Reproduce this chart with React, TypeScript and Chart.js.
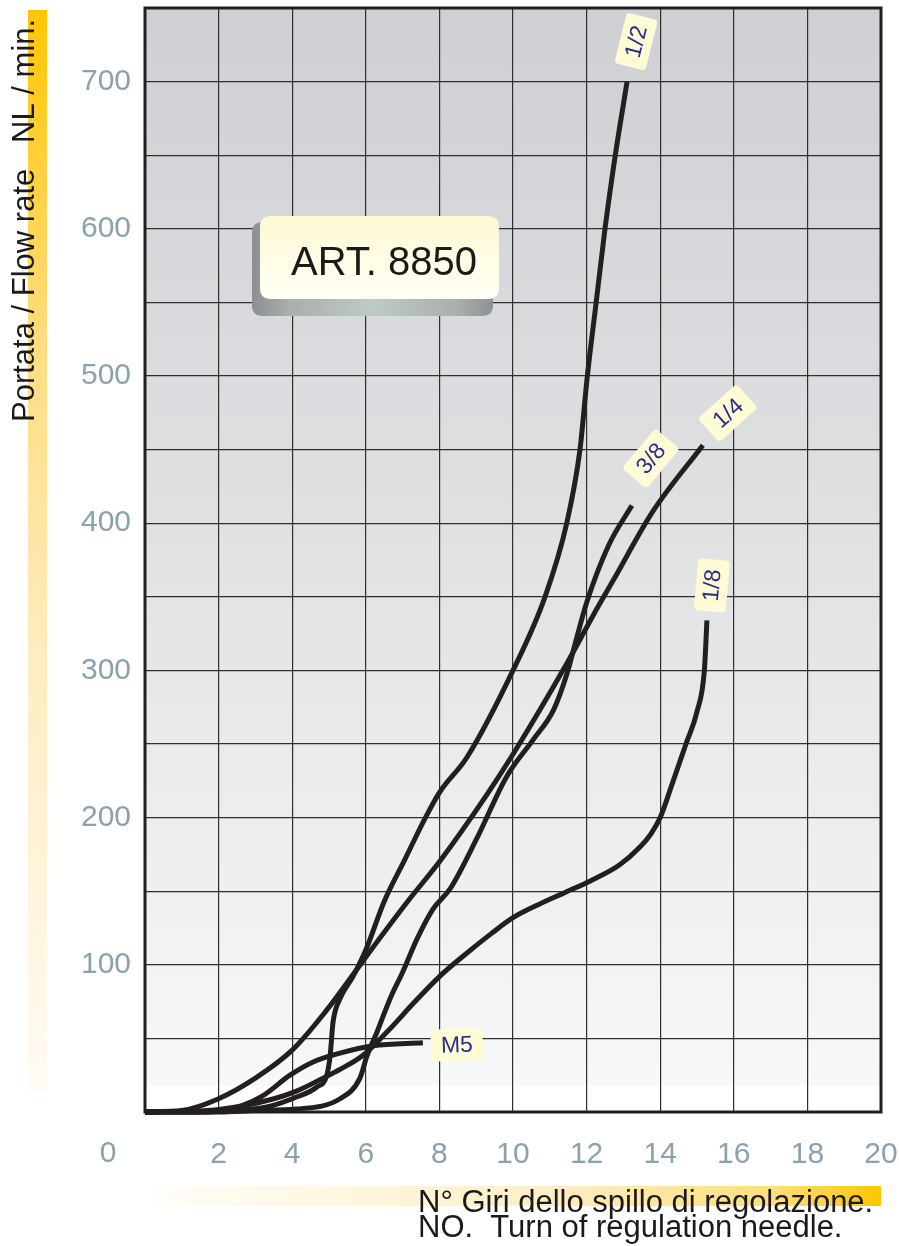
import React, { useEffect, useRef } from 'react';
import { Chart, registerables } from 'chart.js';

Chart.register(...registerables);

// ---- data ----
const xTickValues = [0, 2, 4, 6, 8, 10, 12, 14, 16, 18, 20];
const yTickLabels = [100, 200, 300, 400, 500, 600, 700];
const seriesNames = ['1/2', '3/8', '1/4', '1/8', 'M5'];

const halfX = [0, 1.5, 2.5, 3.4, 4.1, 4.67, 4.94, 5.03, 5.11, 5.3, 5.65, 6.0, 6.5, 7.07, 7.6, 8.0, 8.75, 10.0, 10.87, 11.46, 11.82, 12.02, 12.26, 12.5, 12.78, 13.1];
const halfY = [0, 0, 1, 4, 10, 17, 25, 38, 61, 77, 92, 110, 143, 172, 199, 217, 241, 300, 350, 400, 450, 500, 550, 600, 650, 700];

const threeEighthX = [0, 2, 3, 4.1, 5.3, 5.84, 6.03, 6.3, 6.66, 7.0, 7.4, 7.83, 8.3, 9.0, 9.83, 10.55, 11.1, 11.47, 11.74, 12.0, 12.6, 13.23];
const threeEighthY = [0, 0, 1, 2, 9, 23, 38, 54, 77, 95, 118, 138, 152, 185, 228, 253, 273, 298, 323, 346, 385, 412];

const quarterX = [0, 1, 2, 3, 4, 4.9, 5.76, 6.2, 7.2, 8.0, 9.3, 10.0, 11.47, 12.17, 12.72, 13.8, 15.16];
const quarterY = [0, 1, 9, 23, 42, 68, 97, 112, 145, 170, 216, 243, 305, 337, 361, 408, 453];

const eighthX = [0, 1.7, 2.6, 3.5, 4.1, 4.84, 5.3, 5.9, 6.6, 7.3, 8.0, 8.7, 9.4, 10.0, 10.7, 11.4, 12.1, 12.9, 13.45, 13.75, 14.0, 14.3, 14.7, 15.0, 15.2, 15.27];
const eighthY = [0, 1, 4, 9, 14, 23, 29, 38, 55, 74, 92, 107, 121, 132, 141, 149, 157, 168, 180, 189, 200, 221, 250, 272, 300, 334];

const m5X = [0, 1.5, 2.1, 2.6, 3.2, 3.94, 4.57, 5.3, 6.2, 7.55];
const m5Y = [0, 0, 1, 4, 11, 25, 34, 40, 45, 47];

const seriesX = [halfX, threeEighthX, quarterX, eighthX, m5X];
const seriesY = [halfY, threeEighthY, quarterY, eighthY, m5Y];

// ---- styles ----
const FONT = '"Liberation Sans", Arial, Helvetica, sans-serif';
const TICK_COLOR = '#8aa1ae';
const LINE_COLOR = '#231f20';
const labelStyles = [
  { dx: 9, dy: -40, rot: -76 },
  { dx: 19, dy: -47, rot: -50 },
  { dx: 25, dy: -32, rot: -42 },
  { dx: 5, dy: -35, rot: -85 },
  { dx: 34, dy: 2, rot: -2 },
];

function roundRect(ctx: CanvasRenderingContext2D, x: number, y: number, w: number, h: number, r: number) {
  ctx.beginPath();
  ctx.moveTo(x + r, y);
  ctx.lineTo(x + w - r, y);
  ctx.quadraticCurveTo(x + w, y, x + w, y + r);
  ctx.lineTo(x + w, y + h - r);
  ctx.quadraticCurveTo(x + w, y + h, x + w - r, y + h);
  ctx.lineTo(x + r, y + h);
  ctx.quadraticCurveTo(x, y + h, x, y + h - r);
  ctx.lineTo(x, y + r);
  ctx.quadraticCurveTo(x, y, x + r, y);
  ctx.closePath();
}

const decoPlugin = {
  id: 'deco',
  beforeDraw(chart: any) {
    const { ctx, chartArea: a, width, height } = chart;
    ctx.save();
    ctx.fillStyle = '#ffffff';
    ctx.fillRect(0, 0, width, height);

    // Y title bar
    const gy = ctx.createLinearGradient(0, 10, 0, 1090);
    gy.addColorStop(0, '#ffc600');
    gy.addColorStop(0.3, '#ffdc7c');
    gy.addColorStop(0.6, '#ffecc0');
    gy.addColorStop(1, '#fffbf4');
    ctx.fillStyle = gy;
    ctx.fillRect(28, 10, 19, 1080);

    // X title bar
    const gx = ctx.createLinearGradient(158, 0, a.right, 0);
    gx.addColorStop(0, '#fffdf8');
    gx.addColorStop(0.5, '#fff0c9');
    gx.addColorStop(0.85, '#ffde80');
    gx.addColorStop(1, '#ffc700');
    ctx.fillStyle = gx;
    ctx.fillRect(158, 1186, a.right - 158, 20);

    // plot background
    const gb = ctx.createLinearGradient(0, a.top, 0, a.bottom);
    gb.addColorStop(0, '#cfd0d3');
    gb.addColorStop(0.45, '#dfe0e2');
    gb.addColorStop(0.9, '#f3f5f5');
    gb.addColorStop(0.975, '#f7f9f9');
    gb.addColorStop(0.977, '#ffffff');
    gb.addColorStop(1, '#ffffff');
    ctx.fillStyle = gb;
    ctx.fillRect(a.left, a.top, a.right - a.left, a.bottom - a.top);

    // Y title
    ctx.fillStyle = '#1a1a1a';
    ctx.font = `31px ${FONT}`;
    ctx.textBaseline = 'alphabetic';
    ctx.textAlign = 'left';
    ctx.save();
    ctx.translate(34, 422);
    ctx.rotate(-Math.PI / 2);
    ctx.fillText('Portata / Flow rate   NL / min.', 0, 0);
    ctx.restore();

    // X title
    ctx.font = `31px ${FONT}`;
    ctx.fillText('N° Giri dello spillo di regolazione.', 418, 1212);
    ctx.fillText('NO.  Turn of regulation needle.', 418, 1237);

    // corner 0 label
    const xs = chart.scales.x;
    ctx.fillStyle = TICK_COLOR;
    ctx.font = `30px ${FONT}`;
    ctx.textAlign = 'center';
    ctx.textBaseline = 'middle';
    ctx.fillText(String(xTickValues[0]), xs.getPixelForValue(xTickValues[0]) - 37, 1154);
    ctx.restore();
  },
  beforeDatasetsDraw(chart: any) {
    const { ctx, chartArea: a } = chart;
    ctx.save();
    // ART box shadow
    const gs = ctx.createLinearGradient(252, 0, 493, 0);
    gs.addColorStop(0, '#8c8e91');
    gs.addColorStop(0.15, '#a8afac');
    gs.addColorStop(0.5, '#bccbc1');
    gs.addColorStop(0.85, '#a9b1ad');
    gs.addColorStop(1, '#8f9194');
    ctx.fillStyle = gs;
    roundRect(ctx, 252, 222, 241, 94, 11);
    ctx.fill();
    const gm = ctx.createLinearGradient(0, 216, 0, 299);
    gm.addColorStop(0, '#fff8d2');
    gm.addColorStop(1, '#fffff6');
    ctx.fillStyle = gm;
    roundRect(ctx, 260, 216, 239, 83, 11);
    ctx.fill();
    ctx.fillStyle = '#1a1a1a';
    ctx.font = `40px ${FONT}`;
    ctx.textAlign = 'left';
    ctx.textBaseline = 'alphabetic';
    ctx.fillText('ART. 8850', 291, 275);

    // frame
    ctx.strokeStyle = LINE_COLOR;
    ctx.lineWidth = 3;
    ctx.strokeRect(a.left, a.top, a.right - a.left, a.bottom - a.top);
    ctx.restore();
  },
  afterDatasetsDraw(chart: any) {
    const { ctx } = chart;
    const xs = chart.scales.x;
    const ys = chart.scales.y;
    ctx.save();
    ctx.font = `23px ${FONT}`;
    ctx.textAlign = 'center';
    ctx.textBaseline = 'middle';
    seriesNames.forEach((name, i) => {
      const xArr = seriesX[i];
      const yArr = seriesY[i];
      const px = xs.getPixelForValue(xArr[xArr.length - 1]);
      const py = ys.getPixelForValue(yArr[yArr.length - 1]);
      const st = labelStyles[i];
      const tw = ctx.measureText(name).width;
      const w = tw + 20;
      const h = 32;
      ctx.save();
      ctx.translate(px + st.dx, py + st.dy);
      ctx.rotate((st.rot * Math.PI) / 180);
      ctx.fillStyle = '#fffbd4';
      roundRect(ctx, -w / 2, -h / 2, w, h, 4);
      ctx.fill();
      ctx.fillStyle = '#2b2d8e';
      ctx.fillText(name, 0, 1);
      ctx.restore();
    });
    ctx.restore();
  },
};

export default function App() {
  const ref = useRef<HTMLCanvasElement | null>(null);
  useEffect(() => {
    if (!ref.current) return;
    const datasets = seriesNames.map((name, i) => ({
      label: name,
      data: seriesX[i].map((x, j) => ({ x, y: seriesY[i][j] })),
      borderColor: LINE_COLOR,
      borderWidth: 5,
      pointRadius: 0,
      fill: false,
      cubicInterpolationMode: 'monotone' as const,
      clip: false as any,
    }));
    const chart = new Chart(ref.current, {
      type: 'line',
      data: { datasets },
      plugins: [decoPlugin],
      options: {
        animation: false,
        responsive: false,
        devicePixelRatio: 1,
        events: [],
        layout: { padding: { left: 0, right: 18, top: 8, bottom: 0 } },
        plugins: { legend: { display: false }, tooltip: { enabled: false } },
        scales: {
          x: {
            type: 'linear',
            min: 0,
            max: 20,
            border: { display: false },
            grid: { color: '#2e2e2e', lineWidth: 1.2, drawTicks: false },
            ticks: {
              stepSize: 2,
              padding: 25,
              color: TICK_COLOR,
              font: { size: 30, family: FONT },
              callback: (v: any) => (Number(v) === xTickValues[0] ? '' : String(v)),
            },
            afterFit: (s: any) => {
              s.height = 134;
              s.paddingLeft = 0;
              s.paddingRight = 0;
            },
          },
          y: {
            type: 'linear',
            min: 0,
            max: 750,
            border: { display: false },
            grid: { color: '#2e2e2e', lineWidth: 1.2, drawTicks: false },
            ticks: {
              stepSize: 50,
              padding: 14,
              color: TICK_COLOR,
              font: { size: 30, family: FONT },
              callback: (v: any) => (yTickLabels.includes(Number(v)) ? String(v) : ''),
            },
            afterFit: (s: any) => {
              s.width = 145;
              s.paddingTop = 0;
              s.paddingBottom = 0;
            },
          },
        },
      },
    });
    return () => chart.destroy();
  }, []);
  return (
    <div style={{ position: 'fixed', left: 0, top: 0, width: 899, height: 1246, background: '#fff' }}>
      <canvas ref={ref} width={899} height={1246} style={{ width: 899, height: 1246, display: 'block' }} />
    </div>
  );
}
